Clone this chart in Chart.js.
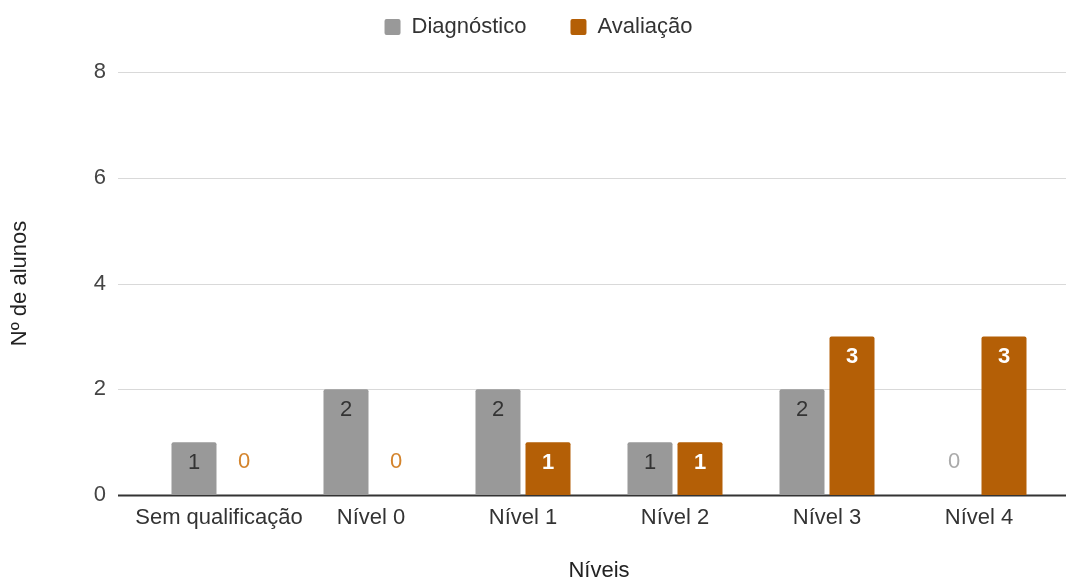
<!DOCTYPE html>
<html>
<head>
<meta charset="utf-8">
<script src="https://cdn.jsdelivr.net/npm/chart.js@4"></script>
<style>
  html, body { margin: 0; padding: 0; background: #fff; }
  #wrap { width: 1066px; height: 583px; }
</style>
</head>
<body>
<div id="wrap"><canvas id="niveisChart"></canvas></div>
<script>
// categorias e valores
const niveis = ['Sem qualificação', 'Nível 0', 'Nível 1', 'Nível 2', 'Nível 3', 'Nível 4'];
const diagnostico = [1, 2, 2, 1, 2, 0];
const avaliacao = [0, 0, 1, 1, 3, 3];
const yTicks = [0, 2, 4, 6, 8];

const FONT = "'Liberation Sans', Arial, sans-serif";

//linhas de grade horizontais, mais largas que a area do grafico
const gridPlugin = {
    id: 'gridPlugin',
    beforeDatasetsDraw(chart) {
        const ctx = chart.ctx;
        const y = chart.scales.y;
        ctx.save();
        yTicks.forEach(v => {
            const py = Math.round(y.getPixelForValue(v)) + 0.5;
            ctx.beginPath();
            ctx.strokeStyle = v === 0 ? '#333' : '#d9d9d9';
            ctx.lineWidth = v === 0 ? 2 : 1;
            ctx.moveTo(118, py);
            ctx.lineTo(1066, py);
            ctx.stroke();
        });
        ctx.restore();
    }
};

//rotulos de valor em cada barra
const labelPlugin = {
    id: 'labelPlugin',
    afterDatasetsDraw(chart) {
        const ctx = chart.ctx;
        ctx.save();
        ctx.textAlign = 'center';
        ctx.textBaseline = 'middle';
        chart.data.datasets.forEach((ds, di) => {
            const meta = chart.getDatasetMeta(di);
            meta.data.forEach((bar, i) => {
                const v = ds.data[i];
                let ty, color, weight;
                if (v === 0) {
                    ty = bar.base - 33;
                    color = di === 0 ? '#aaaaaa' : '#d4842c';
                    weight = 'normal';
                } else {
                    ty = bar.y + 21;
                    color = di === 0 ? '#333333' : '#ffffff';
                    weight = di === 0 ? 'normal' : 'bold';
                }
                ctx.font = weight + ' 22px ' + FONT;
                ctx.fillStyle = color;
                ctx.fillText(String(v), bar.x, ty);
            });
        });
        ctx.restore();
    }
};

//posiciona a legenda como no original
const legendShift = {
    id: 'legendShift',
    afterLayout(chart) {
        chart.legend.left += 11;
        chart.legend.right += 11;
        chart.legend.top -= 28;
        chart.legend.bottom -= 28;
    }
};

const ctx = document.getElementById('niveisChart').getContext('2d');
new Chart(ctx, {
    type: 'bar',
    data: {
        labels: niveis,
        datasets: [{
            label: 'Diagnóstico',
            data: diagnostico,
            backgroundColor: '#999999',
            borderRadius: { topLeft: 2, topRight: 2 },
            borderSkipped: 'start',
            categoryPercentage: 0.658,
            barPercentage: 0.9
        }, {
            label: 'Avaliação',
            data: avaliacao,
            backgroundColor: '#b45f06',
            borderRadius: { topLeft: 2, topRight: 2 },
            borderSkipped: 'start',
            categoryPercentage: 0.658,
            barPercentage: 0.9
        }]
    },
    options: {
        responsive: true,
        maintainAspectRatio: false,
        animation: false,
        layout: { padding: { top: 0, right: 11, bottom: 0, left: 0 } },
        plugins: {
            legend: {
                position: 'top',
                maxHeight: 72,
                labels: {
                    boxWidth: 16,
                    boxHeight: 16,
                    padding: 44,
                    useBorderRadius: true,
                    borderRadius: 2,
                    color: '#333',
                    font: { family: FONT, size: 22 }
                }
            },
            tooltip: { enabled: false }
        },
        scales: {
            x: {
                grid: { display: false, drawTicks: false },
                border: { display: false },
                ticks: {
                    color: '#333',
                    padding: 10,
                    maxRotation: 0,
                    autoSkip: false,
                    font: { family: FONT, size: 22 }
                },
                title: {
                    display: true,
                    text: 'Níveis',
                    color: '#222',
                    padding: { top: 0, bottom: -1 },
                    font: { family: FONT, size: 22 }
                },
                afterFit(scale) { scale.height = 88; }
            },
            y: {
                min: 0,
                max: 8,
                grid: { display: false, drawTicks: false },
                border: { display: false },
                ticks: {
                    stepSize: 2,
                    color: '#444',
                    padding: 37,
                    font: { family: FONT, size: 22 }
                },
                title: {
                    display: true,
                    text: 'Nº de alunos',
                    color: '#222',
                    padding: { top: 7, bottom: 0 },
                    font: { family: FONT, size: 22 }
                },
                afterFit(scale) { scale.width = 143; }
            }
        }
    },
    plugins: [gridPlugin, labelPlugin, legendShift]
});
</script>
</body>
</html>
